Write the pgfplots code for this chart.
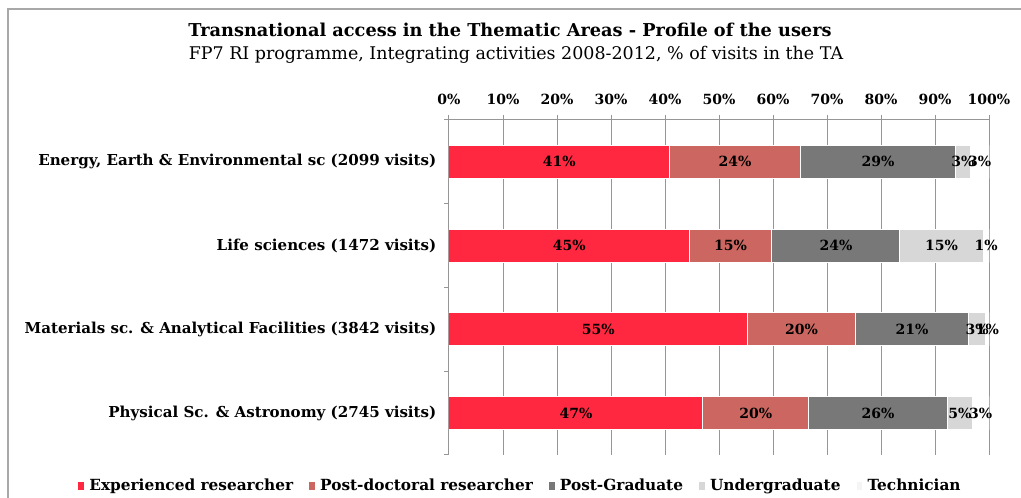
\documentclass[border=0pt]{standalone}
\usepackage{pgfplots}
\pgfplotsset{compat=1.18}
\usepackage{fontspec}
\setmainfont{DejaVu Serif}
\definecolor{cExp}{RGB}{255,40,64}
\definecolor{cPost}{RGB}{204,102,96}
\definecolor{cPG}{RGB}{120,120,120}
\definecolor{cUG}{RGB}{215,215,215}
\definecolor{cTech}{RGB}{255,255,255}
\definecolor{gridc}{RGB}{150,150,150}
\definecolor{framec}{RGB}{168,168,168}
\newcommand{\fs}[1]{\fontsize{#1}{#1}\selectfont}
\begin{document}
\begin{tikzpicture}
\useasboundingbox (0,0) rectangle (765.75pt,-373.5pt);
\begin{scope}[x=0.75pt,y=-0.75pt]
\draw[framec, line width=1.5pt] (8,520) -- (8,9) -- (1040,9);
\node[font=\bfseries\fs{13.3}] at (510,30) {Transnational access in the Thematic Areas - Profile of the users};
\node[font=\fs{13.1}] at (516,55) {FP7 RI programme, Integrating activities 2008-2012, \% of visits in the TA};
\end{scope}
\begin{axis}[
  at={(336.75pt,-90pt)}, anchor=north west,
  scale only axis, width=405pt, height=251.25pt,
  xbar stacked, bar width=24.75pt,
  xmin=0, xmax=100, ymin=-0.5, ymax=3.5,
  axis x line=top, axis y line=left,
  axis line style={-, draw=gridc, line width=0.75pt},
  xtick={0,10,...,100},
  /pgf/number format/assume math mode=true,
  xticklabel={\pgfmathprintnumber{\tick}\%},
  xticklabel style={font=\bfseries\fs{10.5}, yshift=4pt},
  xtick align=outside, ytick align=outside,
  major tick length=3.75pt,
  tick style={draw=gridc, line width=0.75pt},
  ytick={-0.5,0.5,1.5,2.5,3.5},
  yticklabels={},
  extra y ticks={0,1,2,3},
  extra y tick labels={{Physical Sc. \& Astronomy (2745 visits)},{Materials sc. \& Analytical Facilities (3842 visits)},{Life sciences (1472 visits)},{Energy, Earth \& Environmental sc (2099 visits)}},
  extra y tick style={major tick length=0pt, yticklabel style={font=\bfseries\fs{11.3}, xshift=-6pt}},
  xmajorgrids, major grid style={draw=gridc, line width=0.75pt},
  legend style={draw=none, at={(axis description cs:0.133,-0.0925)}, anchor=center, legend columns=5, font=\bfseries\fs{11.5},
    nodes={inner sep=2pt},
    /tikz/every odd column/.append style={column sep=2pt},
    /tikz/every even column/.append style={column sep=10pt}},
]
\addplot[fill=cExp, draw=white, line width=0.75pt, legend image code/.code={\fill[cExp] (0pt,-2.5pt) rectangle (3.5pt,2.5pt);}] coordinates {(47.0,0) (55.3,1) (44.5,2) (40.8,3)};
\addlegendentry{Experienced researcher}
\addplot[fill=cPost, draw=white, line width=0.75pt, legend image code/.code={\fill[cPost] (0pt,-2.5pt) rectangle (3.5pt,2.5pt);}] coordinates {(19.6,0) (20.0,1) (15.3,2) (24.3,3)};
\addlegendentry{Post-doctoral researcher}
\addplot[fill=cPG, draw=white, line width=0.75pt, legend image code/.code={\fill[cPG] (0pt,-2.5pt) rectangle (3.5pt,2.5pt);}] coordinates {(25.7,0) (20.9,1) (23.7,2) (28.7,3)};
\addlegendentry{Post-Graduate}
\addplot[fill=cUG, draw=white, line width=0.75pt, legend image code/.code={\fill[cUG] (0pt,-2.5pt) rectangle (3.5pt,2.5pt);}] coordinates {(4.6,0) (3.2,1) (15.4,2) (2.7,3)};
\addlegendentry{Undergraduate}
\addplot[fill=cTech, draw=white, line width=0.75pt, legend image code/.code={\fill[gray!8] (0pt,-2.5pt) rectangle (3.5pt,2.5pt);}] coordinates {(3.1,0) (0.6,1) (1.1,2) (3.5,3)};
\addlegendentry{Technician}
\end{axis}
\begin{axis}[
  at={(336.75pt,-90pt)}, anchor=north west,
  scale only axis, width=405pt, height=251.25pt,
  xmin=0, xmax=100, ymin=-0.5, ymax=3.5,
  hide axis, clip=false,
]
\addplot[only marks, mark=*, mark size=0pt, mark options={draw=none, fill=none},
  scatter/use mapped color={draw=none, fill=none},
  point meta=explicit symbolic, nodes near coords={\pgfplotspointmeta},
  every node near coord/.style={anchor=center, inner sep=0pt, font=\bfseries\fs{10.5}}]
  coordinates {
  (23.5,0) [47\%] (56.8,0) [20\%] (79.45,0) [26\%] (94.6,0) [5\%] (98.45,0) [3\%]
  (27.65,1) [55\%] (65.3,1) [20\%] (85.75,1) [21\%] (97.8,1) [3\%] (99.7,1) [1\%]
  (22.25,2) [45\%] (52.15,2) [15\%] (71.65,2) [24\%] (91.2,2) [15\%] (99.45,2) [1\%]
  (20.4,3) [41\%] (52.95,3) [24\%] (79.45,3) [29\%] (95.15,3) [3\%] (98.25,3) [3\%]
  };
\end{axis}
\end{tikzpicture}
\end{document}
